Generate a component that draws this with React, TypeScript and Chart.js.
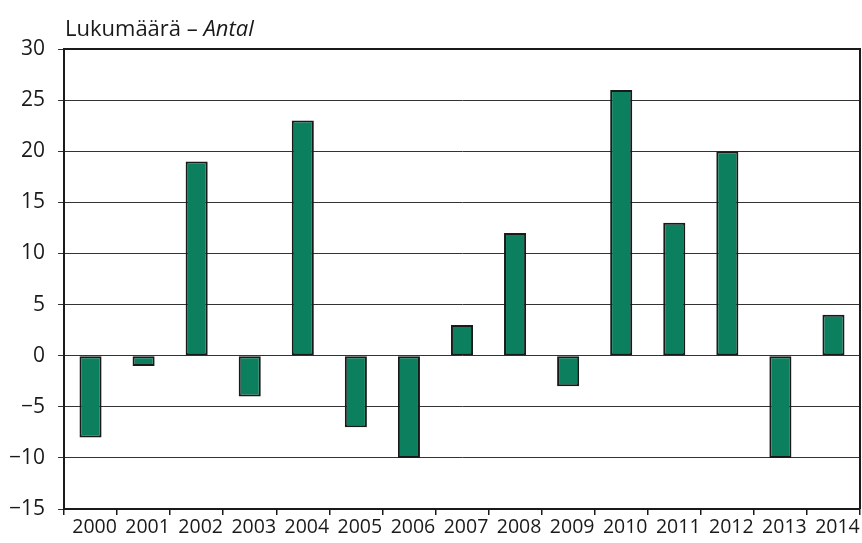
import React, { useEffect, useRef } from "react";
import { Chart, registerables } from "chart.js";

Chart.register(...registerables);

const years = ["2000","2001","2002","2003","2004","2005","2006","2007","2008","2009","2010","2011","2012","2013","2014"];
const values = [-8, -1, 19, -4, 23, -7, -10, 3, 12, -3, 26, 13, 20, -10, 4];
const yMin = -15;
const yMax = 30;
const yStep = 5;
const titleMain = "Lukumäärä – ";
const titleItalic = "Antal";

const FONT = "'Open Sans', 'Noto Sans', sans-serif";

export default function App() {
  const ref = useRef<HTMLCanvasElement | null>(null);
  useEffect(() => {
    document.body.style.margin = "0";
    const borderPlugin = {
      id: "borders",
      afterDraw(chart: any) {
        const { ctx, chartArea } = chart;
        ctx.save();
        ctx.strokeStyle = "#1a1a1a";
        ctx.lineWidth = 2;
        ctx.beginPath();
        ctx.moveTo(chartArea.left, chartArea.top);
        ctx.lineTo(chartArea.right, chartArea.top);
        ctx.lineTo(chartArea.right, chartArea.bottom);
        ctx.stroke();
        ctx.fillStyle = "#1a1a1a";
        ctx.textBaseline = "alphabetic";
        ctx.textAlign = "left";
        ctx.font = `22px ${FONT}`;
        const x0 = chartArea.left + 1;
        const y0 = 36;
        ctx.fillText(titleMain, x0, y0);
        const w = ctx.measureText(titleMain).width;
        ctx.font = `italic 22px ${FONT}`;
        ctx.fillText(titleItalic, x0 + w, y0);
        ctx.restore();
      },
    };
    const chart = new Chart(ref.current!, {
      type: "bar",
      data: {
        labels: years,
        datasets: [
          {
            data: values,
            backgroundColor: "#0b7f5e",
            borderColor: "#1a1a1a",
            borderWidth: 2,
            borderSkipped: false,
            barPercentage: 0.8,
            categoryPercentage: 0.52,
          },
        ],
      },
      options: {
        animation: false,
        responsive: false,
        layout: { padding: { top: 49, right: 2, left: 0, bottom: 0 } },
        plugins: { legend: { display: false }, tooltip: { enabled: false } },
        scales: {
          x: {
            grid: { offset: true, drawOnChartArea: false, drawTicks: true, tickLength: 6, color: "#1a1a1a", lineWidth: 1.5 },
            border: { color: "#1a1a1a", width: 2 },
            ticks: { color: "#1a1a1a", font: { family: FONT, size: 19.5 }, padding: 1, labelOffset: 4, maxRotation: 0, autoSkip: false },
            afterFit(scale: any) { scale.height = 34; },
          },
          y: {
            min: yMin,
            max: yMax,
            ticks: { stepSize: yStep, color: "#1a1a1a", font: { family: FONT, size: 21 }, padding: 13,
              callback: (v: any) => (Number(v) < 0 ? "\u2212" + Math.abs(Number(v)) : String(v)) },
            grid: { color: "#333", lineWidth: 1, tickLength: 6, drawTicks: true },
            border: { color: "#1a1a1a", width: 2 },
            afterFit(scale: any) { scale.width = 64; },
          },
        },
      },
      plugins: [borderPlugin],
    });
    return () => chart.destroy();
  }, []);
  return (
    <div style={{ position: "absolute", left: 0, top: 0, width: 862, height: 543, background: "#fff" }}>
      <canvas ref={ref} width={862} height={543} style={{ width: 862, height: 543 }} />
    </div>
  );
}
